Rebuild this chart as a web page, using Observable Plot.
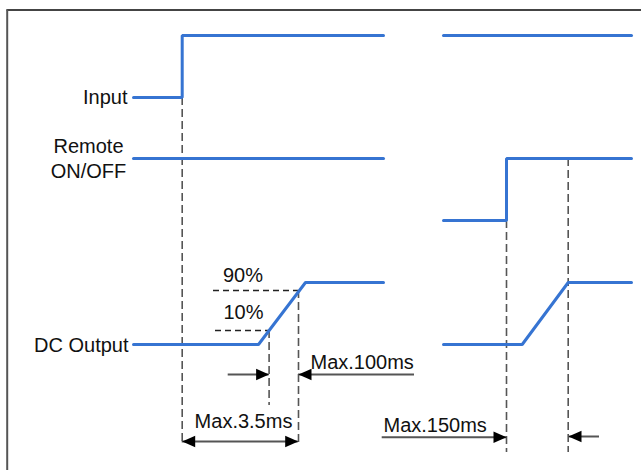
<!DOCTYPE html>
<html>
<head>
<meta charset="utf-8">
<script src="https://cdn.jsdelivr.net/npm/d3@7"></script>
<script src="https://cdn.jsdelivr.net/npm/@observablehq/plot@0.6"></script>
<style>
  html, body { margin: 0; padding: 0; background: #fff; }
  #chart svg { display: block; }
</style>
</head>
<body>
<div id="chart"></div>
<script>
// ---- waveform vertices (time position, signal level) ----
const inputA_t = [133, 181.7, 181.7, 383];
const inputA_v = [97, 97, 35, 35];
const inputB_t = [443, 631];
const inputB_v = [35, 35];
const remoteA_t = [133, 383];
const remoteA_v = [158, 158];
const remoteB_t = [443, 506, 506, 631];
const remoteB_v = [220, 220, 158, 158];
const dcA_t = [133, 258, 305, 383];
const dcA_v = [344, 344, 282, 282];
const dcB_t = [443, 521.7, 567.7, 631];
const dcB_v = [344, 344, 282, 282];

// ---- timing markers (vertical dashed) ----
const markX  = [181.7, 268.6, 298, 506, 567.7];
const markY1 = [97, 330, 290, 220, 158];
const markY2 = [442, 405, 445, 452, 452];

// ---- threshold markers (horizontal dashed) ----
const threshY  = [290, 330];
const threshX1 = [213, 215];
const threshX2 = [298, 268.6];

// ---- dimension arrows ----
const dimY  = [374, 374, 441, 436.7, 436];
const dimX1 = [227.7, 298, 181.7, 381.7, 568];
const dimX2 = [268.6, 414, 297.7, 506, 599];
const headX   = [268.6, 298, 181.7, 297.7, 506, 568];
const headY   = [374, 374, 441, 441, 436.7, 436];
const headDir = ["right", "left", "left", "right", "right", "left"];

// ---- labels ----
const labelText   = ["Input", "Remote\nON/OFF", "DC Output", "90%", "10%", "Max.3.5ms", "Max.100ms", "Max.150ms"];
const labelX      = [127, 88, 128, 242.5, 243, 243, 310, 383];
const labelY      = [103, 177, 351, 281.5, 318.5, 427, 368, 431];
const labelAnchor = ["end", "middle", "end", "middle", "middle", "middle", "start", "start"];

// ---- build tables ----
const waves = [];
[[inputA_t, inputA_v, "inA"], [inputB_t, inputB_v, "inB"],
 [remoteA_t, remoteA_v, "reA"], [remoteB_t, remoteB_v, "reB"],
 [dcA_t, dcA_v, "dcA"], [dcB_t, dcB_v, "dcB"]].forEach(([t, v, id]) => {
  t.forEach((ti, i) => waves.push({t: ti, v: v[i], id}));
});
const marks = markX.map((x, i) => ({x, y1: markY1[i], y2: markY2[i]}));
const thresholds = threshY.map((y, i) => ({y, x1: threshX1[i], x2: threshX2[i]}));
const dims = dimY.map((y, i) => ({y, x1: dimX1[i], x2: dimX2[i]}));
const heads = headX.map((x, i) => ({x, y: headY[i], dir: headDir[i]}));
const labels = labelText.map((text, i) => ({text, x: labelX[i], y: labelY[i], anchor: labelAnchor[i]}));

const arrowHead = {
  draw(ctx) {
    ctx.moveTo(0, 0);
    ctx.lineTo(-13, -5.8);
    ctx.lineTo(-13, 5.8);
    ctx.closePath();
  }
};

const chart = Plot.plot({
  width: 641,
  height: 470,
  margin: 0,
  style: {background: "#fff", fontFamily: "'Liberation Sans', Arial, sans-serif"},
  x: {domain: [0, 641], range: [0, 641], axis: null},
  y: {domain: [0, 470], range: [0, 470], axis: null},
  marks: [
    // frame
    Plot.ruleY([9.5], {x1: 6.5, x2: 641, stroke: "#444", strokeWidth: 2}),
    Plot.ruleX([6.7], {y1: 9.5, y2: 470, stroke: "#555", strokeWidth: 2}),
    // dashed timing markers
    Plot.ruleX(marks, {x: "x", y1: "y1", y2: "y2", stroke: "#555", strokeWidth: 1.6, strokeDasharray: "8,4"}),
    Plot.ruleY(thresholds, {y: "y", x1: "x1", x2: "x2", stroke: "#222", strokeWidth: 1.4, strokeDasharray: "6,4"}),
    // waveforms
    Plot.line(waves, {x: "t", y: "v", z: "id", stroke: "#3674d2", strokeWidth: 3, strokeLinejoin: "miter", curve: "linear"}),
    // dimension lines
    Plot.ruleY(dims, {y: "y", x1: "x1", x2: "x2", stroke: "#555", strokeWidth: 2}),
    Plot.dot(heads, {x: "x", y: "y", symbol: arrowHead, rotate: d => d.dir === "left" ? 180 : 0, fill: "#000", stroke: "none"}),
    // labels
    ...["start", "middle", "end"].map(a =>
      Plot.text(labels.filter(d => d.anchor === a), {
        x: "x", y: "y", text: "text", textAnchor: a, lineAnchor: "bottom",
        lineHeight: 1.25, fontSize: 20, fill: "#111"
      })
    )
  ]
});
document.getElementById("chart").append(chart);
</script>
</body>
</html>
